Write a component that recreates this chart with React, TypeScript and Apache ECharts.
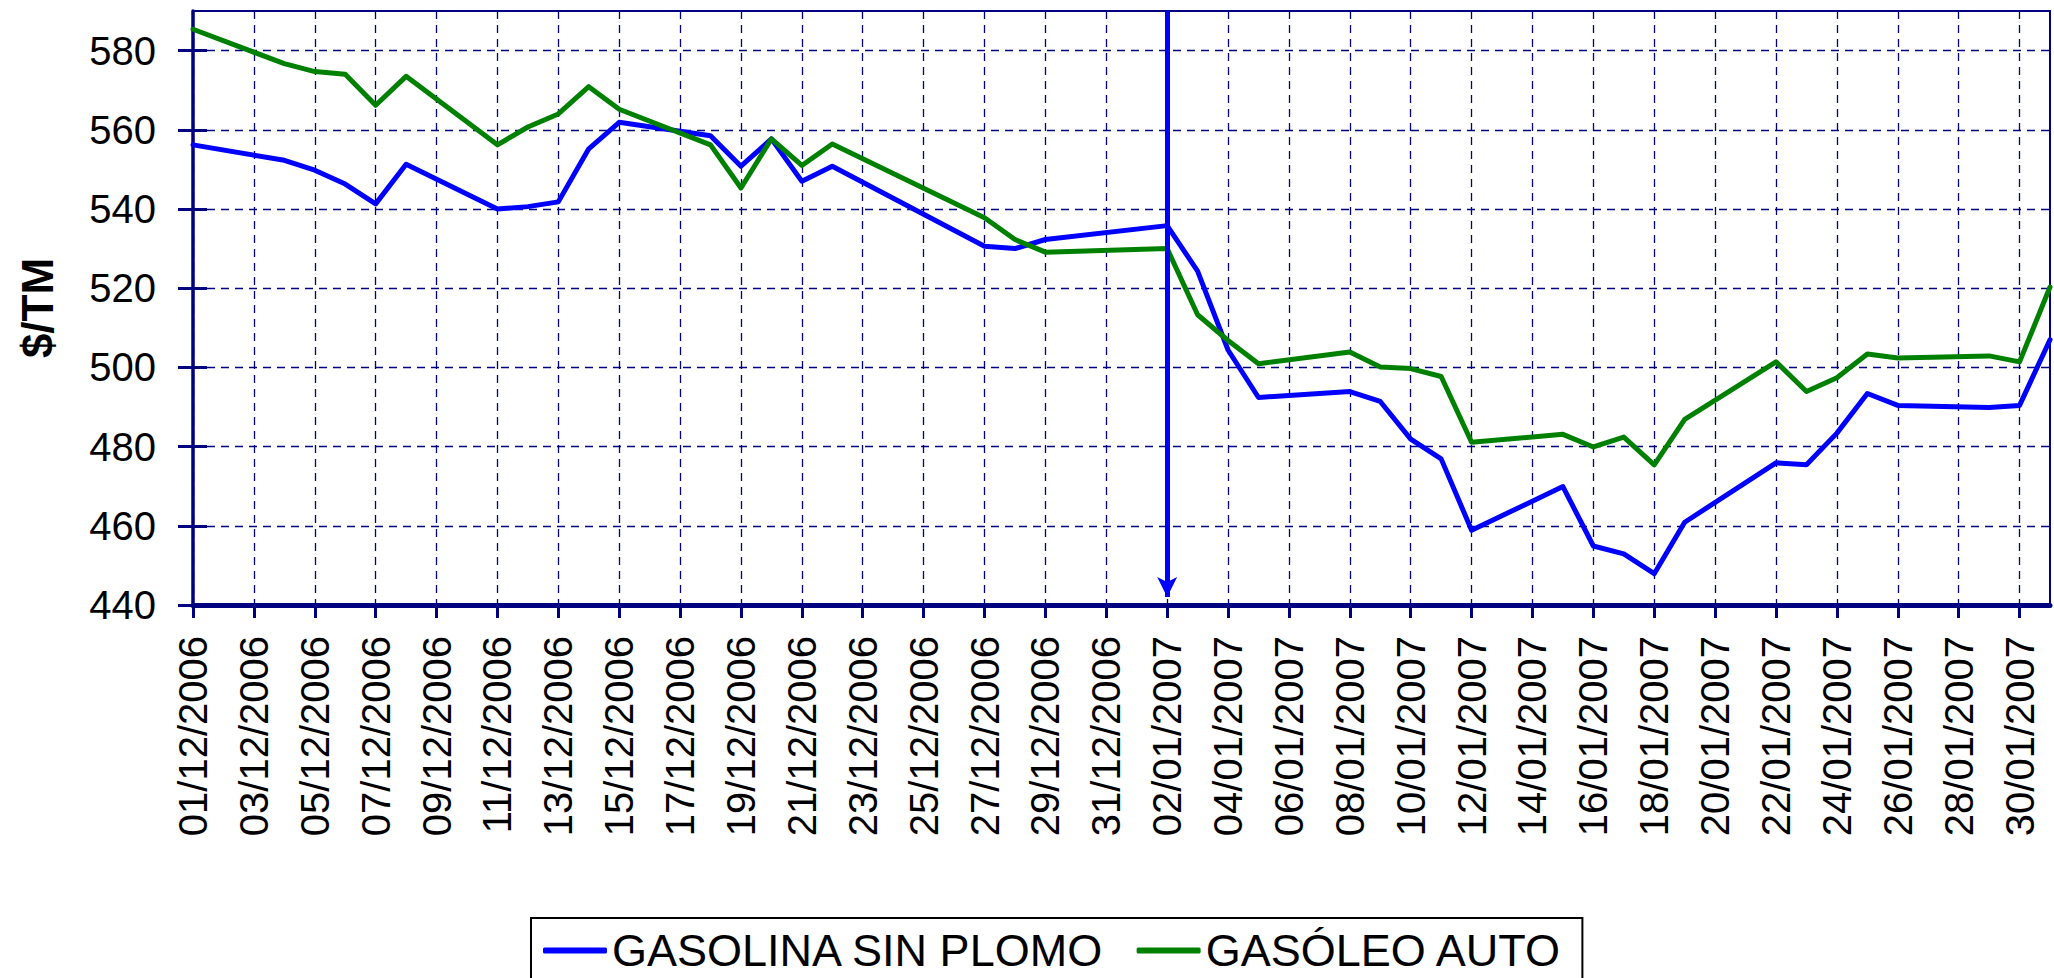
import React, { useEffect, useRef } from "react";
import * as echarts from "echarts";

// Daily category axis: 01/12/2006 .. 31/01/2007
const CATEGORIES: string[] = [
  "01/12/2006", "02/12/2006", "03/12/2006", "04/12/2006", "05/12/2006", "06/12/2006", "07/12/2006",
  "08/12/2006", "09/12/2006", "10/12/2006", "11/12/2006", "12/12/2006", "13/12/2006", "14/12/2006",
  "15/12/2006", "16/12/2006", "17/12/2006", "18/12/2006", "19/12/2006", "20/12/2006", "21/12/2006",
  "22/12/2006", "23/12/2006", "24/12/2006", "25/12/2006", "26/12/2006", "27/12/2006", "28/12/2006",
  "29/12/2006", "30/12/2006", "31/12/2006",
  "01/01/2007", "02/01/2007", "03/01/2007", "04/01/2007", "05/01/2007", "06/01/2007", "07/01/2007",
  "08/01/2007", "09/01/2007", "10/01/2007", "11/01/2007", "12/01/2007", "13/01/2007", "14/01/2007",
  "15/01/2007", "16/01/2007", "17/01/2007", "18/01/2007", "19/01/2007", "20/01/2007", "21/01/2007",
  "22/01/2007", "23/01/2007", "24/01/2007", "25/01/2007", "26/01/2007", "27/01/2007", "28/01/2007",
  "29/01/2007", "30/01/2007", "31/01/2007",
];

// Quotation dates (trading days)
const DATES: string[] = [
  "01/12/2006", "04/12/2006", "05/12/2006", "06/12/2006", "07/12/2006", "08/12/2006",
  "11/12/2006", "12/12/2006", "13/12/2006", "14/12/2006", "15/12/2006",
  "18/12/2006", "19/12/2006", "20/12/2006", "21/12/2006", "22/12/2006",
  "27/12/2006", "28/12/2006", "29/12/2006",
  "02/01/2007", "03/01/2007", "04/01/2007", "05/01/2007",
  "08/01/2007", "09/01/2007", "10/01/2007", "11/01/2007", "12/01/2007",
  "15/01/2007", "16/01/2007", "17/01/2007", "18/01/2007", "19/01/2007",
  "22/01/2007", "23/01/2007", "24/01/2007", "25/01/2007", "26/01/2007",
  "29/01/2007", "30/01/2007", "31/01/2007",
];

const GASOLINA: number[] = [
  556.2, 552.3, 549.8, 546.3, 541.3, 551.3,
  540.0, 540.6, 541.8, 555.2, 561.9,
  558.5, 550.8, 557.7, 547.0, 550.8,
  530.6, 530.0, 532.3,
  535.8, 524.3, 504.4, 492.4,
  493.9, 491.4, 481.9, 476.9, 458.9,
  469.9, 454.9, 452.9, 447.9, 460.9,
  475.9, 475.4, 483.4, 493.4, 490.4,
  489.9, 490.4, 507.0,
];

const GASOLEO: number[] = [
  585.4, 576.7, 574.7, 574.0, 566.2, 573.5,
  556.2, 560.7, 564.0, 570.9, 565.2,
  556.2, 545.3, 557.7, 551.0, 556.4,
  537.8, 532.3, 529.1,
  530.0, 513.3, 506.8, 500.9,
  503.9, 500.1, 499.7, 497.7, 481.1,
  483.1, 479.9, 482.4, 475.4, 486.9,
  501.4, 493.9, 497.4, 503.4, 502.4,
  502.9, 501.4, 520.3,
];

const Y_TICKS: number[] = [440, 460, 480, 500, 520, 540, 560, 580];
const SERIES_NAMES: string[] = ["GASOLINA SIN PLOMO", "GASÓLEO AUTO"];
const ARROW_DATE = "02/01/2007";
const ARROW_RANGE: number[] = [590, 442];

const FONT = "'Liberation Sans', Arial, Helvetica, sans-serif";
const NAVY = "#000080";

export default function App() {
  const ref = useRef<HTMLDivElement>(null);

  useEffect(() => {
    document.body.style.margin = "0";
    if (!ref.current) return;
    const chart = echarts.init(ref.current, undefined, { renderer: "svg" });

    const gridLine = { color: NAVY, width: 1.3, type: [8, 6] as number[] };

    const option: any = {
      animation: false,
      backgroundColor: "#ffffff",
      textStyle: { fontFamily: FONT },
      grid: {
        left: 193,
        right: 4,
        top: 11,
        bottom: 373,
        show: true,
        borderColor: NAVY,
        borderWidth: 2,
        backgroundColor: "transparent",
        containLabel: false,
        outerBoundsMode: "none",
      },
      legend: {
        left: 531,
        top: 918,
        orient: "horizontal",
        padding: [10, 20, 40, 12],
        itemWidth: 64,
        itemHeight: 6,
        itemGap: 32,
        icon: "roundRect",
        borderColor: "#000000",
        borderWidth: 2,
        textStyle: { fontSize: 45, color: "#000000", fontFamily: FONT },
        data: SERIES_NAMES,
      },
      xAxis: {
        type: "category",
        data: CATEGORIES,
        boundaryGap: false,
        axisLine: { show: true, lineStyle: { color: NAVY, width: 5 } },
        axisTick: { show: true, interval: 1, length: 13, lineStyle: { color: NAVY, width: 3 } },
        axisLabel: {
          interval: 1,
          rotate: 90,
          margin: 31,
          fontSize: 40,
          color: "#000000",
          fontFamily: FONT,
        },
        splitLine: { show: true, interval: 1, lineStyle: gridLine },
      },
      yAxis: [
        {
          type: "value",
          min: 440,
          max: 590,
          interval: 20,
          position: "left",
          name: "$/TM",
          nameLocation: "middle",
          nameGap: 134,
          nameTextStyle: { fontSize: 44, fontWeight: "bold", color: "#000000", fontFamily: FONT },
          axisLine: { show: true, lineStyle: { color: NAVY, width: 3.5 } },
          axisTick: {
            show: true,
            length: 15,
            customValues: Y_TICKS,
            lineStyle: { color: NAVY, width: 3 },
          },
          axisLabel: {
            customValues: Y_TICKS,
            margin: 37,
            fontSize: 40,
            color: "#000000",
            fontFamily: FONT,
          },
          splitLine: { show: true, lineStyle: gridLine },
        },
        {
          type: "value",
          min: 440,
          max: 590,
          interval: 20,
          position: "left",
          axisLine: { show: false },
          axisLabel: { show: false },
          splitLine: { show: false },
          axisTick: {
            show: true,
            inside: true,
            length: 14,
            customValues: Y_TICKS,
            lineStyle: { color: NAVY, width: 3 },
          },
        },
      ],
      series: [
        {
          name: SERIES_NAMES[0],
          type: "line",
          color: "#0000FF",
          data: DATES.map((d, i) => [d, GASOLINA[i]]),
          showSymbol: false,
          symbol: "none",
          lineStyle: { color: "#0000FF", width: 5, join: "round", cap: "round" },
          itemStyle: { color: "#0000FF" },
          markLine: {
            silent: true,
            symbol: ["none", "arrow"],
            symbolSize: [15, 20],
            label: { show: false },
            lineStyle: { color: "#0000FF", width: 5, type: "solid" },
            data: [[
              { coord: [ARROW_DATE, ARROW_RANGE[0]] },
              { coord: [ARROW_DATE, ARROW_RANGE[1]] },
            ]],
          },
        },
        {
          name: SERIES_NAMES[1],
          type: "line",
          color: "#008000",
          data: DATES.map((d, i) => [d, GASOLEO[i]]),
          showSymbol: false,
          symbol: "none",
          lineStyle: { color: "#008000", width: 5, join: "round", cap: "round" },
          itemStyle: { color: "#008000" },
        },
      ],
    };

    chart.setOption(option);
    return () => {
      chart.dispose();
    };
  }, []);

  return <div ref={ref} style={{ width: 2054, height: 978 }} />;
}
